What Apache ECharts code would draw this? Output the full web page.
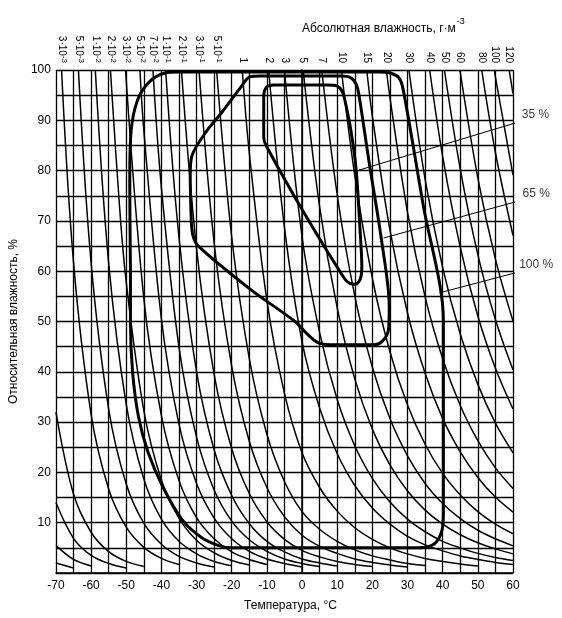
<!DOCTYPE html>
<html>
<head>
<meta charset="utf-8">
<script src="https://cdn.jsdelivr.net/npm/echarts@6/dist/echarts.min.js"></script>
<style>
  html, body { margin: 0; padding: 0; background: #fff; }
  #chart { width: 562px; height: 618px; }
</style>
</head>
<body>
<div id="chart"></div>
<script>
// верхняя шкала: абсолютная влажность и точка росы (°C), где кривая выходит на 100 %
const absLabels = ['3·10^-3', '5·10^-3', '1·10^-2', '2·10^-2', '3·10^-2', '5·10^-2', '7·10^-2',
  '1·10^-1', '2·10^-1', '3·10^-1', '5·10^-1', '1', '2', '3', '5', '7', '10', '15', '20',
  '30', '40', '50', '60', '80', '100', '120']
const dewPoints = [-68.4, -63.6, -58.8, -54.5, -50.2, -46.1, -42.4, -38.8, -34.3, -29.3,
  -24.3, -17, -9.5, -5, 0.3, 5.6, 11.2, 18.4, 24, 30.4, 36.3, 40.5, 44.9, 51.1, 54.7, 58.9]

// линии постоянной абсолютной влажности [t, RH]
const absHumCurves = [
  [[-68.4, 100], [-65, 61.8], [-60, 31.6], [-55, 16.7], [-50, 9.1], [-45, 5.1], [-40, 2.9], [-35, 1.7]],
  [[-63.6, 100], [-60, 61.7], [-55, 32.6], [-50, 17.7], [-45, 9.9], [-40, 5.7], [-35, 3.3], [-30, 2.0], [-25, 1.2]],
  [[-58.8, 100], [-55, 61.6], [-50, 33.5], [-45, 18.7], [-40, 10.7], [-35, 6.3], [-30, 3.8], [-25, 2.3], [-20, 1.45]],
  [[-54.5, 100], [-52, 73.8], [-50, 57.8], [-45, 32.3], [-40, 18.5], [-35, 10.9], [-30, 6.5], [-25, 4.0], [-20, 2.5], [-15, 1.6]],
  [[-50.2, 100], [-45, 54.6], [-40, 31.3], [-35, 18.4], [-30, 11.0], [-25, 6.8], [-20, 4.2], [-15, 2.7], [-10, 1.7]],
  [[-46.1, 100], [-45, 88.0], [-40, 50.5], [-35, 29.6], [-30, 17.8], [-25, 10.9], [-20, 6.8], [-15, 4.3], [-10, 2.8], [-5, 1.9], [0, 1.2]],
  [[-42.4, 100], [-40, 76.6], [-35, 44.9], [-30, 27.0], [-25, 16.5], [-20, 10.3], [-15, 6.6], [-10, 4.3], [-5, 2.8], [0, 1.9], [5, 1.3]],
  [[-38.8, 100], [-35, 66.7], [-30, 40.0], [-25, 24.5], [-20, 15.4], [-15, 9.8], [-10, 6.3], [-5, 4.2], [0, 2.8], [5, 2.0], [10, 1.4]],
  [[-34.3, 100], [-30, 64.5], [-25, 39.5], [-20, 24.7], [-15, 15.8], [-10, 10.2], [-5, 6.7], [0, 4.5], [5, 3.2], [10, 2.3], [15, 1.7], [20, 1.3]],
  [[-29.3, 100], [-25, 65.6], [-20, 41.1], [-15, 26.2], [-10, 17.0], [-5, 11.2], [0, 7.5], [5, 5.3], [10, 3.9], [15, 2.8], [20, 2.1], [25, 1.6], [30, 1.2]],
  [[-24.3, 100], [-20, 66.8], [-15, 42.6], [-10, 27.6], [-5, 18.2], [0, 12.2], [5, 8.7], [10, 6.3], [15, 4.6], [20, 3.4], [25, 2.6], [30, 1.9], [35, 1.5]],
  [[-17, 100], [-15, 83.5], [-10, 54.2], [-5, 35.7], [0, 23.9], [5, 17.0], [10, 12.3], [15, 9.0], [20, 6.7], [25, 5.0], [30, 3.8], [35, 2.9], [40, 2.3], [45, 1.8], [50, 1.4]],
  [[-9.5, 100], [-5, 68.7], [0, 46.0], [5, 32.8], [10, 23.7], [15, 17.4], [20, 12.9], [25, 9.7], [30, 7.3], [35, 5.6], [40, 4.4], [45, 3.4], [50, 2.7], [55, 2.1], [60, 1.7]],
  [[-5, 100], [0, 66.9], [5, 47.8], [10, 34.5], [15, 25.3], [20, 18.8], [25, 14.1], [30, 10.7], [35, 8.2], [40, 6.3], [45, 5.0], [50, 3.9], [55, 3.1], [60, 2.5]],
  [[0.3, 100], [5, 72.8], [10, 52.7], [15, 38.6], [20, 28.6], [25, 21.5], [30, 16.3], [35, 12.5], [40, 9.7], [45, 7.6], [50, 6.0], [55, 4.8], [60, 3.8]],
  [[5.6, 100], [10, 75.2], [15, 55.1], [20, 40.9], [25, 30.7], [30, 23.3], [35, 17.8], [40, 13.8], [45, 10.8], [50, 8.5], [55, 6.8], [60, 5.4]],
  [[11.2, 100], [15, 79.0], [20, 58.6], [25, 44.0], [30, 33.4], [35, 25.6], [40, 19.8], [45, 15.5], [50, 12.2], [55, 9.7], [60, 7.8]],
  [[18.4, 100], [20, 90.8], [25, 68.2], [30, 51.7], [35, 39.7], [40, 30.7], [45, 24.1], [50, 19.0], [55, 15.1], [60, 12.1]],
  [[24, 100], [25, 94.5], [30, 71.7], [35, 54.9], [40, 42.6], [45, 33.3], [50, 26.3], [55, 20.9], [60, 16.8]],
  [[30.4, 100], [35, 78.3], [40, 60.7], [45, 47.5], [50, 37.5], [55, 29.8], [60, 23.9]],
  [[36.3, 100], [40, 82.8], [45, 64.8], [50, 51.1], [55, 40.7], [60, 32.6]],
  [[40.5, 100], [45, 80.3], [50, 63.3], [55, 50.4], [60, 40.4]],
  [[44.9, 100], [50, 78.5], [55, 62.4], [60, 50.1]],
  [[51.1, 100], [55, 83.6], [60, 67.1]],
  [[54.7, 100], [55, 98.6], [60, 79.1]],
  [[58.9, 100], [60, 95.3]],
  // кривые, входящие слева
  [[-70, 32], [-65, 15.7], [-60, 8.1], [-55, 4.25], [-50, 2.3], [-45, 1.3]],
  [[-70, 14], [-65, 6.9], [-60, 3.5], [-55, 1.9], [-50, 1.0]],
  [[-70, 5.5], [-65, 2.7], [-60, 1.4]],
  [[-70, 2], [-65, 1.0]]
]

// области (жирные контуры)
const contour100 = [[-48.8, 60], [-49.0, 78], [-48.6, 88], [-46.8, 94], [-43.5, 97.6], [-39, 99.4],
  [-35, 99.6], [22, 99.6], [25, 99.4], [27.5, 98.5], [28.8, 96], [34.5, 73], [40.2, 50.3],
  [40.2, 45], [40.2, 12], [39.8, 8.5], [38, 6], [35, 5.1], [32, 5], [-20, 5], [-23.5, 5.4],
  [-28.5, 7], [-34, 10.5], [-39.5, 17], [-43.8, 24], [-46.5, 31], [-48.2, 40], [-48.8, 50], [-48.8, 60]]
const contour65 = [[-31.5, 70], [-31.8, 79], [-31.3, 83], [-27, 88], [-22.9, 91.5], [-17.5, 96.5],
  [-15, 98.6], [-12, 98.8], [11, 98.8], [13.8, 98.5], [15.4, 97.2], [16.2, 95], [19, 82],
  [22.6, 66.2], [24.8, 53], [24.6, 48.5], [23, 46.2], [20.5, 45.4], [8, 45.4], [4.5, 45.8],
  [1.5, 47.5], [-2, 50], [-14.5, 56.3], [-29.5, 65], [-31, 67], [-31.5, 70]]
const contour35 = [[-10.9, 90], [-10.9, 94.6], [-10.2, 96.5], [-8, 97], [7, 97], [10, 96.8],
  [11.5, 95.6], [12.5, 93], [13.9, 88], [15.4, 80.1], [16.5, 68.2], [17, 61], [16.6, 58.5],
  [15.2, 57.4], [13.5, 57.6], [12, 58.6], [0.9, 71.2], [-10.3, 85.1], [-10.9, 86.7], [-10.9, 90]]

// выноски
const leader35 = [[16.2, 80.1], [60.8, 89.5], [73.4, 89.5]]
const leader65 = [[23.2, 66.6], [60.8, 73.8], [73.4, 73.8]]
const leader100 = [[39.1, 55.7], [60.8, 59.7], [73.4, 59.7]]
const leaderLabels = [[66.4, 89.5, '35 %'], [66.6, 73.8, '65 %'], [66.6, 59.7, '100 %']]

const font = 'Liberation Sans'
const chart = echarts.init(document.getElementById('chart'))

const series = []
absHumCurves.forEach(c => {
  series.push({
    type: 'line',
    data: c,
    showSymbol: false,
    smooth: 0.35,
    silent: true,
    lineStyle: { color: '#000', width: 1.5 }
  })
})
;[contour100, contour65, contour35].forEach(c => {
  series.push({
    type: 'line',
    data: c,
    showSymbol: false,
    smooth: 0.3,
    silent: true,
    lineStyle: { color: '#000', width: 3 }
  })
})
;[leader35, leader65, leader100].forEach(c => {
  series.push({
    type: 'line',
    data: c,
    showSymbol: false,
    clip: false,
    silent: true,
    lineStyle: { color: '#000', width: 1 }
  })
})
series.push({
  type: 'scatter',
  data: leaderLabels,
  symbolSize: 1,
  clip: false,
  itemStyle: { color: 'rgba(0,0,0,0)' },
  label: {
    show: true,
    position: 'top',
    distance: 2,
    formatter: p => p.value[2],
    color: '#000',
    fontFamily: font,
    fontSize: 12
  }
})

const option = {
  animation: false,
  backgroundColor: '#fff',
  title: {
    text: '{a|Абсолютная влажность, г·м}{s|-3}',
    left: 297,
    top: 10,
    textStyle: {
      rich: {
        a: { fontFamily: font, fontSize: 12, fontWeight: 'normal', color: '#000', padding: [8, 0, 0, 0] },
        s: { fontFamily: font, fontSize: 9, fontWeight: 'normal', color: '#000', padding: [0, 0, 6, 1] }
      }
    }
  },
  grid: { left: 46, right: 49, top: 70, bottom: 45 },
  xAxis: [
    {
      type: 'value',
      min: -70,
      max: 60,
      interval: 10,
      position: 'bottom',
      name: 'Температура, °C',
      nameLocation: 'middle',
      nameGap: 27,
      nameTextStyle: { fontFamily: font, fontSize: 12, color: '#000', padding: [0, 0, 0, 12] },
      axisLine: { lineStyle: { color: '#000', width: 1.5 } },
      axisTick: { show: false },
      axisLabel: { color: '#000', fontFamily: font, fontSize: 12, margin: 7 },
      splitLine: { show: true, lineStyle: { color: '#000', width: 1.3 } },
      minorTick: { show: false, splitNumber: 2 },
      minorSplitLine: { show: true, lineStyle: { color: '#000', width: 1.3 } }
    },
    {
      type: 'value',
      min: -70,
      max: 60,
      position: 'top',
      axisLine: { show: false },
      axisTick: { show: false },
      splitLine: { show: false },
      axisLabel: {
        customValues: dewPoints,
        rotate: 90,
        margin: 7,
        color: '#000',
        fontFamily: font,
        fontSize: 10,
        formatter: v => {
          const parts = absLabels[dewPoints.indexOf(v)].split('^')
          return parts.length > 1 ? parts[0] + '{s|' + parts[1] + '}' : parts[0]
        },
        rich: {
          s: { fontFamily: font, fontSize: 8, color: '#000', padding: [0, 0, 6, 0] }
        }
      }
    }
  ],
  yAxis: {
    type: 'value',
    min: 0,
    max: 100,
    interval: 10,
    name: 'Относительная влажность, %',
    nameLocation: 'middle',
    nameGap: 30,
    nameTextStyle: { fontFamily: font, fontSize: 12, color: '#000' },
    axisLine: { show: true, lineStyle: { color: '#000', width: 1.5 } },
    axisTick: { show: false },
    axisLabel: {
      color: '#000',
      fontFamily: font,
      fontSize: 12,
      margin: 5,
      formatter: v => (v === 0 ? '' : v)
    },
    splitLine: { show: true, lineStyle: { color: '#000', width: 1.3 } },
    minorTick: { show: false, splitNumber: 2 },
    minorSplitLine: { show: true, lineStyle: { color: '#000', width: 1.3 } }
  },
  series: series
}
chart.setOption(option)
</script>
</body>
</html>
